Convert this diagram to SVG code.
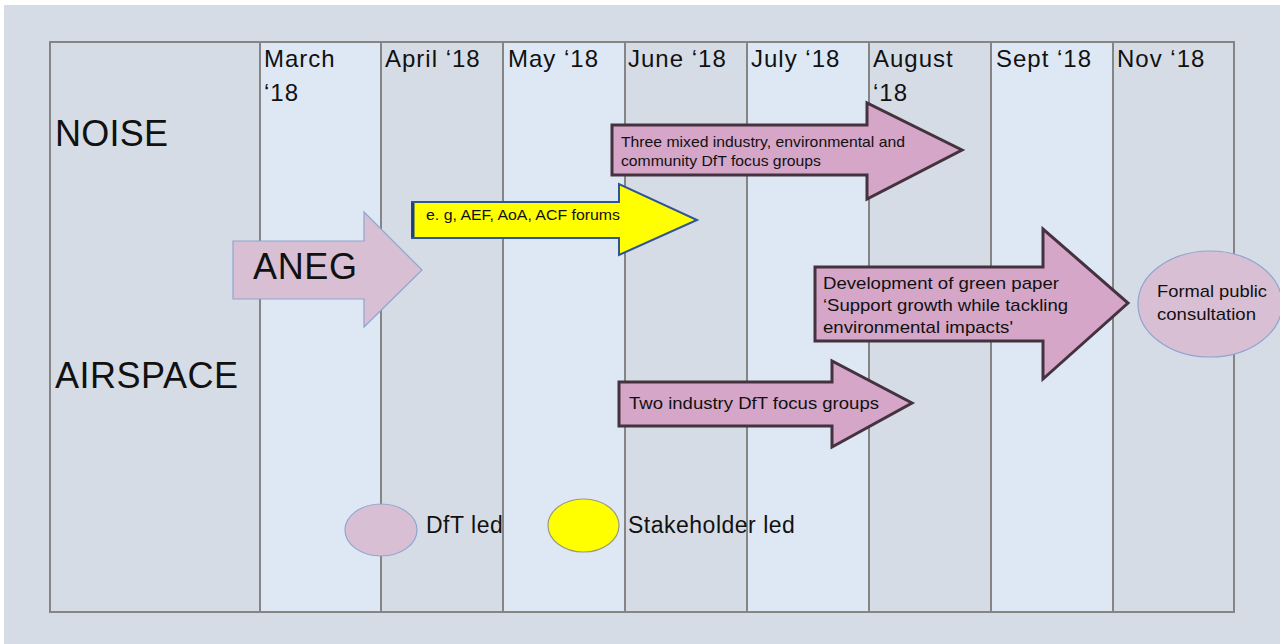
<svg xmlns="http://www.w3.org/2000/svg" width="1280" height="644" viewBox="0 0 1280 644">
<style>
  text { font-family: "Liberation Sans", Arial, sans-serif; fill: #111; }
  .col-a { fill: #dde8f4; }
  .col-b { fill: #d6dce5; }
  .grid { stroke: #858585; stroke-width: 2; fill: none; }
  .month { font-size: 24px; letter-spacing: 1px; }
  .row { font-size: 36px; }
  .dft { fill: #d9bfd3; stroke: #8ea5cf; stroke-width: 1.2; }
  .dft-dark { fill: #d5a6c8; stroke: #45323f; stroke-width: 3; stroke-linejoin: miter; }
  .stake { fill: #ffff00; stroke: #2f5597; stroke-width: 2; }
  .small { font-size: 14.5px; }
  .mid { font-size: 17px; }
  .legend { font-size: 23px; letter-spacing: 0.5px; }
</style>
<rect x="0" y="0" width="1280" height="644" fill="#ffffff"/>
<rect x="4" y="5" width="1276" height="639" fill="#d6dce5"/>

<g id="table">
  <rect class="col-b" x="50" y="42" width="210" height="570"/>
  <rect class="col-a" x="260" y="42" width="121" height="570"/>
  <rect class="col-b" x="381" y="42" width="122" height="570"/>
  <rect class="col-a" x="503" y="42" width="122" height="570"/>
  <rect class="col-b" x="625" y="42" width="122" height="570"/>
  <rect class="col-a" x="747" y="42" width="122" height="570"/>
  <rect class="col-b" x="869" y="42" width="122" height="570"/>
  <rect class="col-a" x="991" y="42" width="122" height="570"/>
  <rect class="col-b" x="1113" y="42" width="121" height="570"/>
  <rect class="grid" x="50" y="42" width="1184" height="570"/>
  <path class="grid" d="M260 42V612M381 42V612M503 42V612M625 42V612M747 42V612M869 42V612M991 42V612M1113 42V612"/>
</g>

<g id="months">
  <text class="month" x="264" y="67">March</text>
  <text class="month" x="264" y="101">‘18</text>
  <text class="month" x="385" y="67">April ‘18</text>
  <text class="month" x="508" y="67">May ‘18</text>
  <text class="month" x="628" y="67">June ‘18</text>
  <text class="month" x="751" y="67">July ‘18</text>
  <text class="month" x="873" y="67">August</text>
  <text class="month" x="873" y="101">‘18</text>
  <text class="month" x="996" y="67">Sept ‘18</text>
  <text class="month" x="1117" y="67">Nov ‘18</text>
</g>

<g id="row-labels">
  <text class="row" x="55" y="146" textLength="113" lengthAdjust="spacing">NOISE</text>
  <text class="row" x="55" y="388" textLength="183" lengthAdjust="spacing">AIRSPACE</text>
</g>

<g id="connectors"></g>

<g id="aneg">
  <polygon class="dft" points="233,241 364,241 364,212 422,270 364,327 364,299 233,299"/>
  <text x="253" y="279" font-size="36px" textLength="104" lengthAdjust="spacing">ANEG</text>
</g>

<g id="stakeholder-forums">
  <polygon class="stake" points="412,202 619,202 619,184 697,220 619,255 619,238 412,238"/>
  <path d="M413 203V237" stroke="#1f3f78" stroke-width="3"/>
  <text class="small" x="426" y="220" textLength="194" lengthAdjust="spacingAndGlyphs">e. g, AEF, AoA, ACF forums</text>
</g>

<g id="three-mixed">
  <polygon class="dft-dark" points="612,125 867,125 867,103 962,150 867,199 867,175 612,175"/>
  <text class="small" x="621" y="147" textLength="284" lengthAdjust="spacingAndGlyphs">Three mixed industry,  environmental  and</text>
  <text class="small" x="621" y="166" textLength="200" lengthAdjust="spacingAndGlyphs">community  DfT focus groups</text>
</g>

<g id="green-paper">
  <polygon class="dft-dark" points="815,267 1043,267 1043,229 1128,303 1043,379 1043,341 815,341"/>
  <text class="mid" x="823" y="289" textLength="236" lengthAdjust="spacingAndGlyphs">Development of green paper</text>
  <text class="mid" x="823" y="311" textLength="245" lengthAdjust="spacingAndGlyphs">‘Support growth while  tackling</text>
  <text class="mid" x="823" y="333" textLength="190" lengthAdjust="spacingAndGlyphs">environmental impacts'</text>
</g>

<g id="two-industry">
  <polygon class="dft-dark" points="619,382 832,382 832,361 912,403 832,447 832,426 619,426"/>
  <text class="mid" x="629" y="409" textLength="250" lengthAdjust="spacingAndGlyphs">Two industry  DfT focus groups</text>
</g>

<g id="consultation">
  <ellipse class="dft" cx="1210" cy="304" rx="72" ry="53"/>
  <text class="mid" x="1157" y="297" textLength="110" lengthAdjust="spacingAndGlyphs">Formal public</text>
  <text class="mid" x="1157" y="320" textLength="99" lengthAdjust="spacingAndGlyphs">consultation</text>
</g>

<g id="legend-dft">
  <ellipse class="dft" cx="381" cy="530" rx="36" ry="26"/>
  <text class="legend" x="426" y="533">DfT led</text>
</g>

<g id="legend-stakeholder">
  <ellipse cx="583.5" cy="525.5" rx="35.5" ry="26.5" fill="#ffff00" stroke="#9a9a7a" stroke-width="1.2"/>
  <text class="legend" x="628" y="533">Stakeholder led</text>
</g>
</svg>
